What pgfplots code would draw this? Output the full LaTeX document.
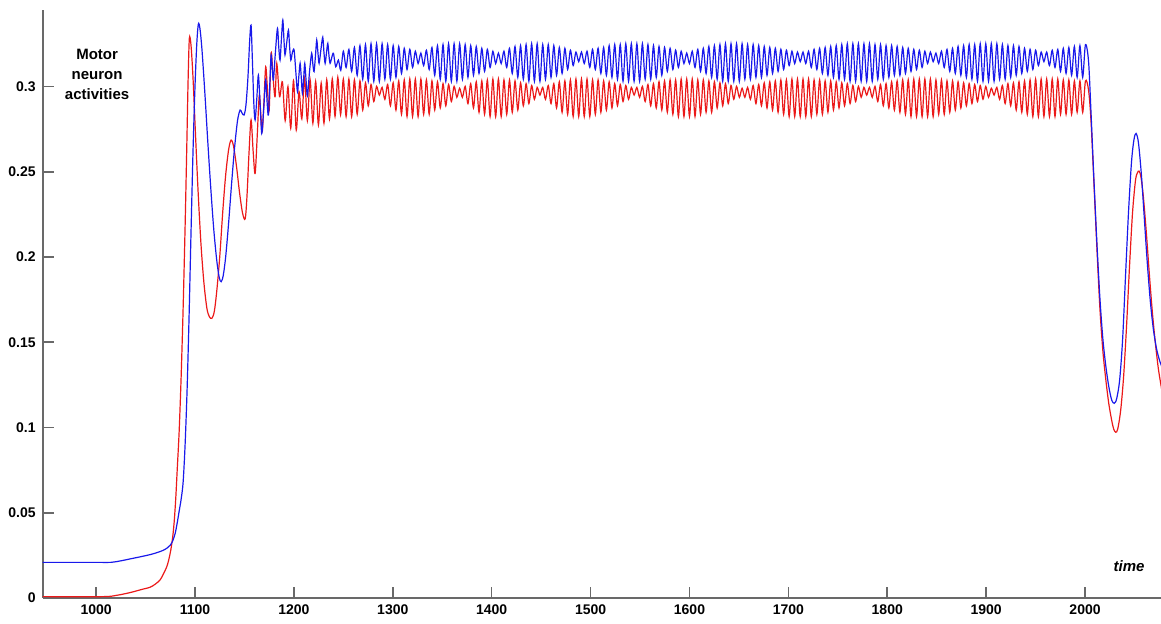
\documentclass[border=0pt]{standalone}
\usepackage{fontspec}
\setmainfont{Liberation Sans}
\usepackage{pgfplots}
\pgfplotsset{compat=1.18}
\definecolor{cblue}{RGB}{25,25,235}
\definecolor{cred}{RGB}{235,25,25}
\definecolor{axgray}{RGB}{105,105,105}
\begin{document}
\begin{tikzpicture}
\useasboundingbox (-21.35pt,-13pt) rectangle (559.15pt,299pt);
\begin{axis}[
  at={(0pt,0pt)}, anchor=south west,
  scale only axis, width=559.15pt, height=294pt,
  xmin=946, xmax=2076.8, ymin=0, ymax=0.3449,
  axis x line=bottom, axis y line=left,
  axis line style={-, draw=axgray, line width=0.9pt},
  tick align=inside, major tick length=5.5pt,
  tick style={draw=axgray, line width=0.8pt},
  xtick={1000,1100,1200,1300,1400,1500,1600,1700,1800,1900,2000},
  xticklabels={1000,1100,1200,1300,1400,1500,1600,1700,1800,1900,2000},
  ytick={0,0.05,0.1,0.15,0.2,0.25,0.3},
  yticklabels={0,0.05,0.1,0.15,0.2,0.25,0.3},
  ticklabel style={font=\fontsize{7}{8}\selectfont\bfseries},
  every axis plot/.append style={line width=0.6pt, smooth},
]
% red series
\addplot[cred] coordinates {
(946,0.0008)(1007,0.0008)(1020,0.0015)(1030,0.0026)(1038,0.0037)(1046,0.005)(1054.6,0.0063)(1060,0.0082)(1064.7,0.0106)(1068,0.014)(1071.5,0.0184)(1073.5,0.0225)(1075.5,0.028)(1077.5,0.036)(1079,0.045)(1080.5,0.058)(1082,0.075)(1084,0.098)(1086,0.13)(1088,0.17)(1090,0.218)(1091.7,0.265)(1093,0.303)(1094.3,0.3283)(1096,0.324)(1098,0.305)(1100.5,0.272)(1103,0.24)(1106,0.208)(1109,0.185)(1112,0.17)(1114.5,0.165)(1117,0.164)(1119.5,0.168)(1122,0.18)(1125,0.2)(1128,0.226)(1131,0.248)(1134,0.263)(1136.5,0.2686)(1139,0.265)(1142,0.253)(1145,0.238)(1148,0.226)(1150.7,0.2223)(1152.5,0.235)(1154.7,0.262)(1156.7,0.2804)(1158.8,0.262)(1160.8,0.249)(1163,0.272)(1165,0.295)(1166.5,0.284)(1168,0.2735)(1169.8,0.292)(1171.5,0.3116)(1173.3,0.298)(1175,0.286)(1177,0.3195)(1179,0.305)(1181,0.294)(1182.7,0.3136)(1185.5,0.294)(1188.4,0.3028)(1191.2,0.28)(1194,0.3)(1196.8,0.2755)(1199.6,0.3035)(1202.4,0.2745)(1205.2,0.297)(1208,0.281)(1210.8,0.305)(1213.6,0.28)(1216.4,0.304)(1219.2,0.2785)(1222,0.303)(1224.8,0.2775)(1227.6,0.302)(1230.4,0.2785)(1233.2,0.304)(1236,0.281)(1238.8,0.3045)(1241.6,0.2825)(1244.4,0.3055)(1247.2,0.2835)
(1250.0,.3044)(1252.8,.2824)(1255.6,.3044)(1258.4,.2824)(1261.2,.3039)(1264.0,.2837)(1266.8,.3033)(1269.6,.2862)(1272.4,.3022)(1275.2,.2887)(1278.0,.3012)(1280.8,.2912)(1283.6,.3001)(1286.4,.2950)(1289.2,.2995)(1292.0,.2925)(1294.8,.3012)(1297.6,.2887)(1300.4,.3022)(1303.2,.2862)(1306.0,.3033)(1308.8,.2837)(1311.6,.3039)(1314.4,.2824)(1317.2,.3044)(1320.0,.2824)(1322.8,.3044)(1325.6,.2824)(1328.4,.3044)(1331.2,.2837)(1334.0,.3039)(1336.8,.2837)(1339.6,.3033)(1342.4,.2862)(1345.2,.3028)(1348.0,.2874)(1350.8,.3017)(1353.6,.2887)(1356.4,.3012)(1359.2,.2912)(1362.0,.3001)(1364.8,.2937)(1367.6,.2990)(1370.4,.2937)(1373.2,.3001)(1376.0,.2900)(1378.8,.3017)(1381.6,.2874)(1384.4,.3028)(1387.2,.2849)(1390.0,.3033)(1392.8,.2837)(1395.6,.3039)(1398.4,.2824)(1401.2,.3044)(1404.0,.2824)(1406.8,.3044)(1409.6,.2824)(1412.4,.3039)(1415.2,.2837)(1418.0,.3039)(1420.8,.2849)(1423.6,.3033)(1426.4,.2862)(1429.2,.3022)(1432.0,.2887)(1434.8,.3017)(1437.6,.2900)(1440.4,.3006)(1443.2,.2925)(1446.0,.2995)(1448.8,.2950)(1451.6,.2995)(1454.4,.2925)(1457.2,.3006)(1460.0,.2900)(1462.8,.3017)(1465.6,.2874)(1468.4,.3028)(1471.2,.2849)(1474.0,.3033)(1476.8,.2837)(1479.6,.3039)(1482.4,.2824)(1485.2,.3044)(1488.0,.2824)(1490.8,.3044)(1493.6,.2824)(1496.4,.3044)(1499.2,.2824)(1502.0,.3039)(1504.8,.2837)(1507.6,.3039)(1510.4,.2849)(1513.2,.3033)(1516.0,.2862)(1518.8,.3028)(1521.6,.2874)(1524.4,.3017)(1527.2,.2887)(1530.0,.3012)(1532.8,.2912)(1535.6,.3006)(1538.4,.2925)(1541.2,.2995)(1544.0,.2950)(1546.8,.2995)(1549.6,.2937)(1552.4,.3001)(1555.2,.2912)(1558.0,.3012)(1560.8,.2887)(1563.6,.3017)(1566.4,.2874)(1569.2,.3028)(1572.0,.2862)(1574.8,.3033)(1577.6,.2849)(1580.4,.3039)(1583.2,.2837)(1586.0,.3039)(1588.8,.2824)(1591.6,.3044)(1594.4,.2824)(1597.2,.3044)(1600.0,.2824)(1602.8,.3044)(1605.6,.2824)(1608.4,.3039)(1611.2,.2837)(1614.0,.3039)(1616.8,.2849)(1619.6,.3033)(1622.4,.2849)(1625.2,.3028)(1628.0,.2874)(1630.8,.3022)(1633.6,.2887)(1636.4,.3017)(1639.2,.2900)(1642.0,.3006)(1644.8,.2925)(1647.6,.3001)(1650.4,.2937)(1653.2,.2990)(1656.0,.2937)(1658.8,.2995)(1661.6,.2925)(1664.4,.3006)(1667.2,.2900)(1670.0,.3012)(1672.8,.2887)(1675.6,.3022)(1678.4,.2874)(1681.2,.3028)(1684.0,.2862)(1686.8,.3033)(1689.6,.2849)(1692.4,.3039)(1695.2,.2837)(1698.0,.3039)(1700.8,.2824)(1703.6,.3044)(1706.4,.2824)(1709.2,.3044)(1712.0,.2824)(1714.8,.3044)(1717.6,.2824)(1720.4,.3044)(1723.2,.2824)(1726.0,.3039)(1728.8,.2837)(1731.6,.3039)(1734.4,.2837)(1737.2,.3033)(1740.0,.2849)(1742.8,.3033)(1745.6,.2862)(1748.4,.3028)(1751.2,.2874)(1754.0,.3022)(1756.8,.2887)(1759.6,.3017)(1762.4,.2900)(1765.2,.3006)(1768.0,.2912)(1770.8,.3001)(1773.6,.2937)(1776.4,.2995)(1779.2,.2950)(1782.0,.2995)(1784.8,.2937)(1787.6,.3001)(1790.4,.2912)(1793.2,.3012)(1796.0,.2887)(1798.8,.3017)(1801.6,.2874)(1804.4,.3028)(1807.2,.2862)(1810.0,.3033)(1812.8,.2849)(1815.6,.3039)(1818.4,.2837)(1821.2,.3039)(1824.0,.2824)(1826.8,.3044)(1829.6,.2824)(1832.4,.3044)(1835.2,.2824)(1838.0,.3044)(1840.8,.2824)(1843.6,.3044)(1846.4,.2824)(1849.2,.3039)(1852.0,.2837)(1854.8,.3039)(1857.6,.2837)(1860.4,.3033)(1863.2,.2849)(1866.0,.3033)(1868.8,.2862)(1871.6,.3028)(1874.4,.2874)(1877.2,.3022)(1880.0,.2887)(1882.8,.3017)(1885.6,.2900)(1888.4,.3012)(1891.2,.2912)(1894.0,.3006)(1896.8,.2925)(1899.6,.3001)(1902.4,.2937)(1905.2,.2990)(1908.0,.2950)(1910.8,.2995)(1913.6,.2925)(1916.4,.3006)(1919.2,.2900)(1922.0,.3017)(1924.8,.2887)(1927.6,.3022)(1930.4,.2862)(1933.2,.3028)(1936.0,.2849)(1938.8,.3033)(1941.6,.2837)(1944.4,.3039)(1947.2,.2824)(1950.0,.3044)(1952.8,.2824)(1955.6,.3044)(1958.4,.2824)(1961.2,.3044)(1964.0,.2824)(1966.8,.3044)(1969.6,.2824)(1972.4,.3044)(1975.2,.2837)(1978.0,.3039)(1980.8,.2837)(1983.6,.3039)(1986.4,.2837)(1989.2,.3033)(1992.0,.2849)(1994.8,.3033)(1997.6,.2849)(2000.4,.3033)
(2003.5,0.298)(2006,0.28)(2009,0.243)(2012,0.205)(2015,0.17)(2018,0.145)(2021,0.128)(2024,0.114)(2027,0.104)(2029,0.099)(2031,0.0972)(2033,0.099)(2036,0.11)(2039,0.13)(2042,0.16)(2045,0.195)(2048,0.226)(2051,0.245)(2053,0.2495)(2054.6,0.2504)(2056.5,0.247)(2059,0.235)(2062,0.214)(2065,0.19)(2068,0.168)(2071,0.15)(2074,0.135)(2077,0.124)(2078,0.121)
};
% blue series
\addplot[cblue] coordinates {
(946,0.0209)(1000,0.0209)(1015,0.0209)(1025,0.0218)(1035,0.0230)(1045,0.0242)(1055,0.0255)(1062,0.0267)(1068,0.0280)(1072,0.0294)(1075,0.031)(1077.5,0.0335)(1080,0.038)(1082,0.044)(1084,0.051)(1086,0.058)(1088,0.068)(1090,0.09)(1092,0.122)(1094,0.165)(1096,0.215)(1098,0.262)(1100,0.3)(1101.8,0.325)(1103.4,0.3367)(1105,0.334)(1107,0.322)(1110,0.296)(1113,0.267)(1116,0.24)(1119,0.216)(1122,0.198)(1124.5,0.188)(1126.4,0.1855)(1128.5,0.189)(1131,0.2)(1134,0.22)(1137,0.243)(1140,0.264)(1143,0.28)(1145.6,0.2862)(1147.5,0.2845)(1149.6,0.2833)(1151.5,0.289)(1153.5,0.305)(1155.3,0.327)(1156.7,0.336)(1158,0.316)(1159.5,0.29)(1160.8,0.2804)(1162.5,0.293)(1164.1,0.3067)(1165.8,0.29)(1167.5,0.2725)(1169.5,0.287)(1171.5,0.3038)(1173,0.29)(1174.2,0.2833)(1175.6,0.301)(1177,0.3185)(1178.2,0.31)(1179.3,0.3038)(1181.3,0.32)(1183.4,0.3341)(1184.7,0.323)(1186,0.3155)(1187.4,0.328)(1188.8,0.339)(1190,0.327)(1191,0.3185)(1192.8,0.326)(1194.5,0.3331)(1195.7,0.323)(1196.9,0.3155)(1198.5,0.32)(1200.2,0.3214)(1201.9,0.309)(1203.6,0.297)(1205,0.306)(1206.3,0.3136)(1207.5,0.305)(1208.6,0.296)(1210,0.306)(1211,0.3136)(1212.4,0.303)(1213.7,0.2946)(1216,0.31)(1218,0.3195)(1219.2,0.313)(1220.4,0.3087)(1221.8,0.318)(1223.1,0.3273)(1224.3,0.32)(1225.5,0.3136)(1227.4,0.322)(1229.2,0.3289)(1230.4,0.32)(1231.6,0.3136)(1233,0.32)(1234.3,0.3253)(1235.5,0.318)(1236.6,0.3136)(1238.3,0.317)(1240,0.3195)(1242.3,0.3116)(1245,0.3155)(1247.4,0.3095)
(1250.0,.3207)(1252.8,.3112)(1255.6,.3218)(1258.4,.3089)(1261.2,.3229)(1264.0,.3066)(1266.8,.3240)(1269.6,.3043)(1272.4,.3246)(1275.2,.3031)(1278.0,.3251)(1280.8,.3031)(1283.6,.3251)(1286.4,.3031)(1289.2,.3251)(1292.0,.3043)(1294.8,.3246)(1297.6,.3043)(1300.4,.3240)(1303.2,.3054)(1306.0,.3235)(1308.8,.3077)(1311.6,.3224)(1314.4,.3100)(1317.2,.3218)(1320.0,.3112)(1322.8,.3207)(1325.6,.3135)(1328.4,.3196)(1331.2,.3123)(1334.0,.3213)(1336.8,.3100)(1339.6,.3229)(1342.4,.3066)(1345.2,.3240)(1348.0,.3043)(1350.8,.3246)(1353.6,.3031)(1356.4,.3251)(1359.2,.3031)(1362.0,.3251)(1364.8,.3031)(1367.6,.3251)(1370.4,.3043)(1373.2,.3246)(1376.0,.3054)(1378.8,.3240)(1381.6,.3066)(1384.4,.3235)(1387.2,.3077)(1390.0,.3224)(1392.8,.3089)(1395.6,.3218)(1398.4,.3112)(1401.2,.3207)(1404.0,.3135)(1406.8,.3196)(1409.6,.3135)(1412.4,.3207)(1415.2,.3112)(1418.0,.3224)(1420.8,.3077)(1423.6,.3235)(1426.4,.3054)(1429.2,.3240)(1432.0,.3043)(1434.8,.3246)(1437.6,.3031)(1440.4,.3251)(1443.2,.3031)(1446.0,.3251)(1448.8,.3031)(1451.6,.3246)(1454.4,.3043)(1457.2,.3246)(1460.0,.3054)(1462.8,.3240)(1465.6,.3066)(1468.4,.3229)(1471.2,.3077)(1474.0,.3224)(1476.8,.3100)(1479.6,.3213)(1482.4,.3123)(1485.2,.3202)(1488.0,.3146)(1490.8,.3202)(1493.6,.3135)(1496.4,.3207)(1499.2,.3112)(1502.0,.3218)(1504.8,.3100)(1507.6,.3224)(1510.4,.3077)(1513.2,.3229)(1516.0,.3066)(1518.8,.3240)(1521.6,.3054)(1524.4,.3246)(1527.2,.3043)(1530.0,.3246)(1532.8,.3031)(1535.6,.3251)(1538.4,.3031)(1541.2,.3251)(1544.0,.3031)(1546.8,.3251)(1549.6,.3031)(1552.4,.3251)(1555.2,.3043)(1558.0,.3246)(1560.8,.3043)(1563.6,.3240)(1566.4,.3054)(1569.2,.3235)(1572.0,.3066)(1574.8,.3229)(1577.6,.3089)(1580.4,.3224)(1583.2,.3100)(1586.0,.3213)(1588.8,.3112)(1591.6,.3207)(1594.4,.3135)(1597.2,.3196)(1600.0,.3135)(1602.8,.3207)(1605.6,.3112)(1608.4,.3218)(1611.2,.3089)(1614.0,.3224)(1616.8,.3077)(1619.6,.3235)(1622.4,.3054)(1625.2,.3240)(1628.0,.3043)(1630.8,.3246)(1633.6,.3031)(1636.4,.3251)(1639.2,.3031)(1642.0,.3251)(1644.8,.3031)(1647.6,.3251)(1650.4,.3031)(1653.2,.3251)(1656.0,.3043)(1658.8,.3246)(1661.6,.3043)(1664.4,.3246)(1667.2,.3054)(1670.0,.3240)(1672.8,.3054)(1675.6,.3235)(1678.4,.3066)(1681.2,.3229)(1684.0,.3077)(1686.8,.3224)(1689.6,.3089)(1692.4,.3218)(1695.2,.3100)(1698.0,.3213)(1700.8,.3123)(1703.6,.3207)(1706.4,.3135)(1709.2,.3202)(1712.0,.3146)(1714.8,.3202)(1717.6,.3135)(1720.4,.3207)(1723.2,.3112)(1726.0,.3218)(1728.8,.3100)(1731.6,.3224)(1734.4,.3077)(1737.2,.3229)(1740.0,.3066)(1742.8,.3235)(1745.6,.3054)(1748.4,.3240)(1751.2,.3043)(1754.0,.3246)(1756.8,.3043)(1759.6,.3251)(1762.4,.3031)(1765.2,.3251)(1768.0,.3031)(1770.8,.3251)(1773.6,.3031)(1776.4,.3251)(1779.2,.3031)(1782.0,.3251)(1784.8,.3031)(1787.6,.3246)(1790.4,.3043)(1793.2,.3246)(1796.0,.3043)(1798.8,.3240)(1801.6,.3054)(1804.4,.3240)(1807.2,.3066)(1810.0,.3235)(1812.8,.3066)(1815.6,.3229)(1818.4,.3077)(1821.2,.3224)(1824.0,.3089)(1826.8,.3218)(1829.6,.3100)(1832.4,.3213)(1835.2,.3112)(1838.0,.3207)(1840.8,.3135)(1843.6,.3202)(1846.4,.3146)(1849.2,.3196)(1852.0,.3135)(1854.8,.3207)(1857.6,.3112)(1860.4,.3218)(1863.2,.3089)(1866.0,.3224)(1868.8,.3077)(1871.6,.3235)(1874.4,.3066)(1877.2,.3240)(1880.0,.3054)(1882.8,.3246)(1885.6,.3043)(1888.4,.3246)(1891.2,.3031)(1894.0,.3251)(1896.8,.3031)(1899.6,.3251)(1902.4,.3031)(1905.2,.3251)(1908.0,.3031)(1910.8,.3251)(1913.6,.3043)(1916.4,.3246)(1919.2,.3043)(1922.0,.3240)(1924.8,.3054)(1927.6,.3240)(1930.4,.3066)(1933.2,.3235)(1936.0,.3077)(1938.8,.3224)(1941.6,.3089)(1944.4,.3218)(1947.2,.3100)(1950.0,.3213)(1952.8,.3123)(1955.6,.3202)(1958.4,.3146)(1961.2,.3202)(1964.0,.3123)(1966.8,.3213)(1969.6,.3112)(1972.4,.3218)(1975.2,.3089)(1978.0,.3224)(1980.8,.3077)(1983.6,.3229)(1986.4,.3066)(1989.2,.3235)(1992.0,.3054)(1994.8,.3240)(1997.6,.3054)(2000.4,.3246)
(2003.5,0.315)(2006,0.285)(2009,0.245)(2012,0.208)(2015,0.176)(2018,0.152)(2021,0.136)(2024,0.124)(2027,0.116)(2029.6,0.1142)(2032,0.117)(2035,0.128)(2038,0.152)(2041,0.19)(2044,0.227)(2047,0.256)(2049.5,0.269)(2051.6,0.2725)(2054,0.267)(2057,0.248)(2060,0.222)(2063,0.196)(2066,0.174)(2069,0.158)(2072,0.147)(2075,0.14)(2078,0.135)
};
\node[font=\fontsize{7.5}{10}\selectfont\bfseries, align=center] at (axis cs:1001,0.3073) {Motor\\neuron\\activities};
\node[font=\fontsize{7.5}{9}\selectfont\bfseries\itshape] at (axis cs:2044.5,0.0188) {time};
\end{axis}
\end{tikzpicture}
\end{document}
